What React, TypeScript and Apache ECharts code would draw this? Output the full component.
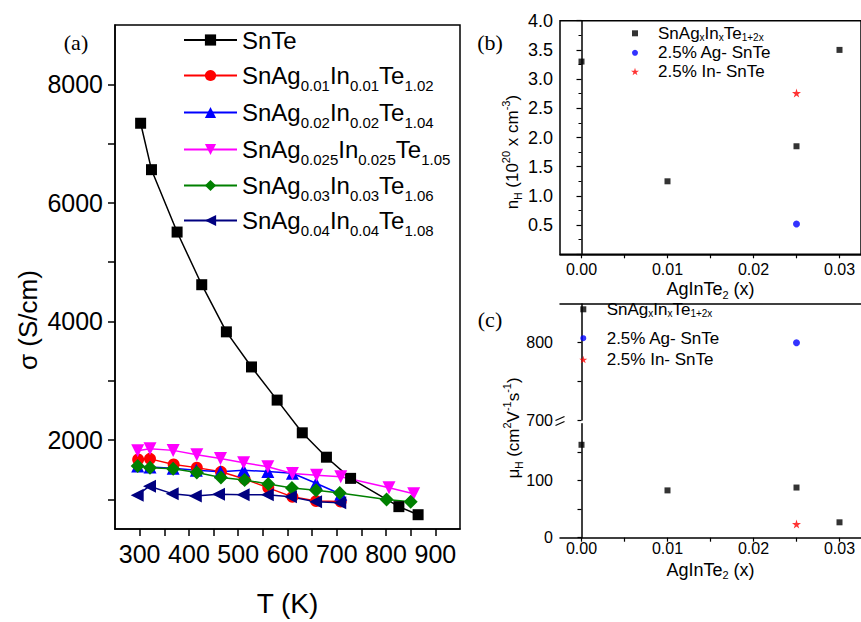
import React, { useEffect, useRef } from 'react';
import * as echarts from 'echarts';

const SANS = '"Liberation Sans", Arial, Helvetica, sans-serif';
const SERIF = '"Liberation Serif", "Times New Roman", Times, serif';

// ---------- Panel (a): sigma vs T ----------
const namesA = [
  'SnTe',
  'SnAg0.01In0.01Te1.02',
  'SnAg0.02In0.02Te1.04',
  'SnAg0.025In0.025Te1.05',
  'SnAg0.03In0.03Te1.06',
  'SnAg0.04In0.04Te1.08',
];
const subsA: (string[] | null)[] = [
  null,
  ['0.01', '0.01', '1.02'],
  ['0.02', '0.02', '1.04'],
  ['0.025', '0.025', '1.05'],
  ['0.03', '0.03', '1.06'],
  ['0.04', '0.04', '1.08'],
];

const tSnTe = [302, 324, 376, 426, 476, 527, 579, 630, 679, 728, 826, 865];
const sSnTe = [7343, 6560, 5508, 4620, 3825, 3233, 2674, 2122, 1711, 1354, 877, 741];

const t001 = [297, 321, 369, 416, 465, 513, 561, 610, 658, 708];
const s001 = [1671, 1683, 1589, 1535, 1464, 1342, 1194, 1042, 971, 964];

const t002 = [296, 321, 368, 415, 464, 511, 560, 610, 658, 708];
const s002 = [1563, 1546, 1523, 1490, 1464, 1490, 1469, 1441, 1272, 1086];

const t0025 = [296, 321, 368, 416, 464, 511, 560, 610, 659, 708, 806, 856];
const s0025 = [1819, 1852, 1826, 1753, 1688, 1617, 1551, 1436, 1408, 1382, 1194, 1096];

const t003 = [296, 321, 368, 416, 465, 513, 561, 609, 658, 706, 801, 850];
const s003 = [1563, 1535, 1518, 1453, 1370, 1326, 1260, 1190, 1152, 1107, 997, 959];

const t004 = [295, 320, 366, 413, 460, 510, 559, 606, 657, 706];
const s004 = [1070, 1222, 1096, 1058, 1086, 1079, 1079, 1042, 959, 943];

const xTicksA = [300, 350, 400, 450, 500, 550, 600, 650, 700, 750, 800, 850, 900];
const xLabelsA = [300, 400, 500, 600, 700, 800, 900];
const yTicksA = [1000, 2000, 3000, 4000, 5000, 6000, 7000, 8000];
const yLabelsA = [2000, 4000, 6000, 8000];

// ---------- Panels (b) and (c) ----------
const namesBC = ['SnAgxInxTe1+2x', '2.5% Ag- SnTe', '2.5% In- SnTe'];
const xMain = [0, 0.01, 0.025, 0.03];
const nHMain = [3.3, 1.25, 1.85, 3.5];
const muMain = [163, 83, 88, 27];
const xAg = [0.025];
const nHAg = [0.52];
const muAg = [800];
const xIn = [0.025];
const nHIn = [2.76];
const muIn = [24];

const xTicksBC = [0, 0.005, 0.01, 0.015, 0.02, 0.025, 0.03];
const xLabelsBC = [0, 0.01, 0.02, 0.03];
const yLabelsB = [0.5, 1, 1.5, 2, 2.5, 3, 3.5, 4];
const yTicksCUp = [700, 750, 800];
const yLabelsCUp = [700, 800];
const yTicksCLow = [0, 50, 100, 150];
const yLabelsCLow = [0, 100];

const STAR = 'path://M50,0 L61,35 L98,35 L68,57 L79,91 L50,70 L21,91 L32,57 L2,35 L39,35 Z';

const stylesA = [
  { color: '#000000', symbol: 'rect', size: 11, rotate: 0 },
  { color: '#ff0000', symbol: 'circle', size: 12, rotate: 0 },
  { color: '#0000ff', symbol: 'triangle', size: 13, rotate: 0 },
  { color: '#ff00ff', symbol: 'triangle', size: 13, rotate: 180 },
  { color: '#008000', symbol: 'diamond', size: 14, rotate: 0 },
  { color: '#000080', symbol: 'triangle', size: 13, rotate: 90 },
];
const stylesBC = [
  { color: '#000000', symbol: 'rect', size: 6, legendSize: 6 },
  { color: '#0000ff', symbol: 'circle', size: 7, legendSize: 6 },
  { color: '#ff0000', symbol: STAR, size: 9, legendSize: 8 },
];

const pairs = (xs: number[], ys: number[]) => xs.map((x, i) => [x, ys[i]]);

const axisLineStyle = { color: '#000', width: 1.5 };

function richA(name: string) {
  const i = namesA.indexOf(name);
  const s = subsA[i];
  if (!s) return `{n|${name}}`;
  return `{n|SnAg}{s|${s[0]}}{n|In}{s|${s[1]}}{n|Te}{s|${s[2]}}`;
}
function richBC(name: string) {
  if (name === namesBC[0]) return '{g|}{n|SnAg}{s|x}{n|In}{s|x}{n|Te}{s|1+2x}';
  return `{g|}{n|${name}}`;
}

export default function App() {
  const ref = useRef<HTMLDivElement>(null);

  useEffect(() => {
    if (!ref.current) return;
    const chart = echarts.init(ref.current, undefined, { renderer: 'svg' });

    const dataA = [
      [tSnTe, sSnTe],
      [t001, s001],
      [t002, s002],
      [t0025, s0025],
      [t003, s003],
      [t004, s004],
    ];

    const series: any[] = [];
    dataA.forEach((d, i) => {
      const st = stylesA[i];
      series.push({
        type: 'line',
        name: namesA[i],
        xAxisIndex: 0,
        yAxisIndex: 0,
        data: pairs(d[0], d[1]),
        symbol: st.symbol,
        symbolSize: st.size,
        symbolRotate: st.rotate,
        showAllSymbol: true,
        color: st.color,
        itemStyle: { color: st.color },
        lineStyle: { color: st.color, width: 1.5 },
        emphasis: { disabled: true },
      });
    });

    const bcData = [
      [xMain, nHMain, muMain],
      [xAg, nHAg, muAg],
      [xIn, nHIn, muIn],
    ];
    bcData.forEach((d, i) => {
      const st = stylesBC[i];
      series.push({
        type: 'scatter',
        name: namesBC[i],
        xAxisIndex: 1,
        yAxisIndex: 1,
        data: pairs(d[0], d[1]),
        symbol: st.symbol,
        symbolSize: st.size,
        itemStyle: { color: st.color },
        emphasis: { disabled: true },
      });
      // panel (c): split into upper (700-850) and lower (0-200) parts
      const up: number[][] = [];
      const low: number[][] = [];
      d[0].forEach((x, k) => {
        const v = d[2][k];
        if (v >= 700) up.push([x, v]);
        else low.push([x, v]);
      });
      if (up.length)
        series.push({
          type: 'scatter', name: namesBC[i], xAxisIndex: 2, yAxisIndex: 2, data: up,
          symbol: st.symbol, symbolSize: st.size, itemStyle: { color: st.color }, emphasis: { disabled: true },
        });
      if (low.length)
        series.push({
          type: 'scatter', name: namesBC[i], xAxisIndex: 3, yAxisIndex: 3, data: low,
          symbol: st.symbol, symbolSize: st.size, itemStyle: { color: st.color }, emphasis: { disabled: true },
        });
    });

    // legends
    const legends: any[] = [];
    const legendYA = [43, 73, 110, 147, 183, 218];
    namesA.forEach((n, i) => {
      legends.push({
        data: [n],
        orient: 'vertical',
        left: 183,
        top: legendYA[i] - 15,
        padding: 0,
        itemWidth: 53,
        itemHeight: 14,
        selectedMode: false,
        formatter: richA,
        textStyle: {
          color: '#000',
          fontFamily: SANS,
          fontSize: 24,
          rich: {
            n: { fontFamily: SANS, fontSize: 24, lineHeight: 30, color: '#000' },
            s: { fontFamily: SANS, fontSize: 15, lineHeight: 30, padding: [20, 0, 0, 0], color: '#000' },
          },
        },
      });
    });
    const legendPanels = [
      { cx: 635, ys: [32.3, 52.3, 71], textLeft: 658 },
      { cx: 583.3, ys: [308.3, 337.7, 359], textLeft: 606.7 },
    ];
    legendPanels.forEach((p) => {
      namesBC.forEach((n, i) => {
        const sz = stylesBC[i].legendSize;
        const left = p.cx - sz / 2;
        const gap = p.textLeft - (left + sz + 5);
        legends.push({
          data: [n],
          orient: 'vertical',
          left,
          top: p.ys[i] - 8,
          padding: 0,
          itemWidth: sz,
          itemHeight: sz,
          selectedMode: false,
          formatter: richBC,
          textStyle: {
            color: '#000',
            fontFamily: SANS,
            fontSize: 17,
            rich: {
              g: { width: gap, lineHeight: 16 },
              n: { fontFamily: SANS, fontSize: 17, lineHeight: 16, color: '#000' },
              s: { fontFamily: SANS, fontSize: 10, lineHeight: 16, padding: [8, 0, 0, 0], color: '#000' },
            },
          },
        });
      });
    });

    const bcXName = '{n|AgInTe}{s|2}{n| (x)}';
    const bcXNameStyle = {
      color: '#000',
      fontFamily: SANS,
      fontSize: 18,
      rich: {
        n: { fontFamily: SANS, fontSize: 18, color: '#000', lineHeight: 20 },
        s: { fontFamily: SANS, fontSize: 11, color: '#000', lineHeight: 20, padding: [11, 0, 0, 0] },
      },
    };
    const plain = (v: number) => String(v);

    const option: any = {
      animation: false,
      backgroundColor: '#ffffff',
      grid: [
        { left: 115, top: 25, width: 345, height: 518, show: true, borderColor: '#000', borderWidth: 1.5, backgroundColor: 'transparent' },
        { left: 560, top: 20.7, width: 303, height: 233.6, show: true, borderColor: '#000', borderWidth: 1.5, backgroundColor: 'transparent' },
        { left: 560, top: 304, width: 303, height: 116 },
        { left: 560, top: 423.7, width: 303, height: 114 },
      ],
      xAxis: [
        {
          type: 'value', gridIndex: 0, min: 250, max: 950,
          axisLine: { lineStyle: axisLineStyle },
          axisTick: { customValues: xTicksA, length: 7, lineStyle: { color: '#000', width: 1.5 } },
          axisLabel: { customValues: xLabelsA, color: '#000', fontFamily: SANS, fontSize: 25, margin: 12, formatter: plain },
          splitLine: { show: false },
          name: 'T (K)', nameLocation: 'middle', nameGap: 60,
          nameTextStyle: { color: '#000', fontFamily: SANS, fontSize: 28 },
        },
        {
          type: 'value', gridIndex: 1, min: -0.0025, max: 0.0325,
          axisLine: { lineStyle: axisLineStyle },
          axisTick: { customValues: xTicksBC, length: 4, lineStyle: { color: '#000', width: 1.2 } },
          axisLabel: { customValues: xLabelsBC, color: '#000', fontFamily: SANS, fontSize: 16, margin: 7, formatter: (v: number) => v.toFixed(2) },
          splitLine: { show: false },
          name: bcXName, nameLocation: 'middle', nameGap: 21, nameTextStyle: bcXNameStyle,
        },
        {
          type: 'value', gridIndex: 2, min: -0.0025, max: 0.0325, position: 'top',
          axisLine: { lineStyle: axisLineStyle },
          axisTick: { show: false },
          axisLabel: { show: false },
          splitLine: { show: false },
        },
        {
          type: 'value', gridIndex: 3, min: -0.0025, max: 0.0325,
          axisLine: { lineStyle: axisLineStyle },
          axisTick: { customValues: xTicksBC, length: 4, lineStyle: { color: '#000', width: 1.2 } },
          axisLabel: { customValues: xLabelsBC, color: '#000', fontFamily: SANS, fontSize: 16, margin: 3, formatter: (v: number) => v.toFixed(2) },
          splitLine: { show: false },
          name: bcXName, nameLocation: 'middle', nameGap: 22, nameTextStyle: bcXNameStyle,
        },
      ],
      yAxis: [
        {
          type: 'value', gridIndex: 0, min: 500, max: 9000,
          axisLine: { lineStyle: axisLineStyle },
          axisTick: { customValues: yTicksA, length: 7, lineStyle: { color: '#000', width: 1.5 } },
          axisLabel: { customValues: yLabelsA, color: '#000', fontFamily: SANS, fontSize: 25, margin: 12, formatter: plain },
          splitLine: { show: false },
        },
        {
          type: 'value', gridIndex: 1, min: 0, max: 4, interval: 0.5,
          axisLine: { lineStyle: axisLineStyle },
          axisTick: { length: 5, lineStyle: { color: '#000', width: 1.2 } },
          minorTick: { show: true, splitNumber: 2, length: 3, lineStyle: { color: '#000', width: 1 } },
          axisLabel: { customValues: yLabelsB, color: '#000', fontFamily: SANS, fontSize: 18, margin: 7, formatter: (v: number) => v.toFixed(1) },
          splitLine: { show: false },
        },
        {
          type: 'value', gridIndex: 2, min: 700, max: 850,
          axisLine: { lineStyle: axisLineStyle },
          axisTick: { customValues: yTicksCUp, length: 4, lineStyle: { color: '#000', width: 1.2 } },
          axisLabel: { customValues: yLabelsCUp, color: '#000', fontFamily: SANS, fontSize: 16, margin: 7, formatter: plain },
          splitLine: { show: false },
        },
        {
          type: 'value', gridIndex: 3, min: 0, max: 200,
          axisLine: { lineStyle: axisLineStyle },
          axisTick: { customValues: yTicksCLow, length: 4, lineStyle: { color: '#000', width: 1.2 } },
          axisLabel: { customValues: yLabelsCLow, color: '#000', fontFamily: SANS, fontSize: 16, margin: 7, formatter: plain },
          splitLine: { show: false },
        },
      ],
      legend: legends,
      graphic: [
        { type: 'text', x: 76, y: 42, style: { text: '(a)', font: `22px ${SERIF}`, fill: '#000', align: 'center', verticalAlign: 'middle' } },
        { type: 'text', x: 490, y: 42, style: { text: '(b)', font: `22px ${SERIF}`, fill: '#000', align: 'center', verticalAlign: 'middle' } },
        { type: 'text', x: 490, y: 319, style: { text: '(c)', font: `22px ${SERIF}`, fill: '#000', align: 'center', verticalAlign: 'middle' } },
        {
          type: 'text', x: 28, y: 320, rotation: Math.PI / 2,
          style: { text: 'σ (S/cm)', font: `26px ${SANS}`, fill: '#000', align: 'center', verticalAlign: 'middle' },
        },
        {
          type: 'text', x: 512, y: 152, rotation: Math.PI / 2,
          style: {
            text: '{n|n}{s|H}{n| (10}{p|20}{n| x cm}{p|-3}{n|)}',
            align: 'center', verticalAlign: 'middle', fill: '#000', font: `17px ${SANS}`,
            rich: {
              n: { fontFamily: SANS, fontSize: 17, fill: '#000', lineHeight: 24 },
              s: { fontFamily: SANS, fontSize: 10, fill: '#000', lineHeight: 24, padding: [12, 0, 0, 0] },
              p: { fontFamily: SANS, fontSize: 11, fill: '#000', lineHeight: 24, padding: [0, 0, 12, 0] },
            },
          },
        },
        {
          type: 'text', x: 513, y: 428, rotation: Math.PI / 2,
          style: {
            text: '{n|μ}{s|H}{n| (cm}{p|2}{n|V}{p|-1}{n|s}{p|-1}{n|)}',
            align: 'center', verticalAlign: 'middle', fill: '#000', font: `17px ${SANS}`,
            rich: {
              n: { fontFamily: SANS, fontSize: 17, fill: '#000', lineHeight: 24 },
              s: { fontFamily: SANS, fontSize: 10, fill: '#000', lineHeight: 24, padding: [12, 0, 0, 0] },
              p: { fontFamily: SANS, fontSize: 11, fill: '#000', lineHeight: 24, padding: [0, 0, 12, 0] },
            },
          },
        },
        // axis break marks on panel (c)
        { type: 'line', shape: { x1: 555.5, y1: 420.5, x2: 564.5, y2: 416.5 }, style: { stroke: '#000', lineWidth: 1.3 } },
        { type: 'line', shape: { x1: 555.5, y1: 425.5, x2: 564.5, y2: 421.5 }, style: { stroke: '#000', lineWidth: 1.3 } },
      ],
      series,
    };

    chart.setOption(option);
    return () => chart.dispose();
  }, []);

  return (
    <div
      ref={ref}
      style={{ position: 'fixed', left: 0, top: 0, width: 861, height: 622, background: '#fff' }}
    />
  );
}
